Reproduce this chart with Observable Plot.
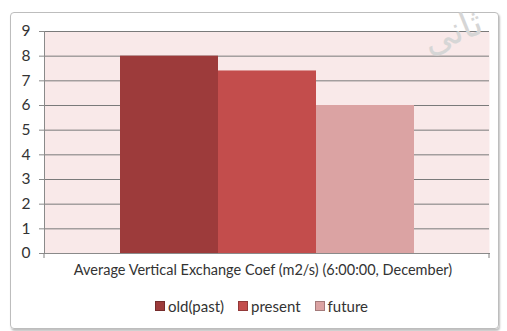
<!DOCTYPE html>
<html>
<head>
<meta charset="utf-8">
<script src="https://cdn.jsdelivr.net/npm/d3@7"></script>
<script src="https://cdn.jsdelivr.net/npm/@observablehq/plot@0.6"></script>
<style>
  html, body { margin: 0; padding: 0; background: #fff; }
  body { position: relative; width: 507px; height: 331px; overflow: hidden; font-family: Lato, "Open Sans", sans-serif; }
  #box {
    position: absolute; left: 10px; top: 12px; width: 487px; height: 315px;
    border: 1px solid #bdbdbd; border-radius: 4px;
    box-shadow: 1px 2px 2px rgba(0,0,0,0.25);
    pointer-events: none;
  }
  #chart { position: absolute; left: 0; top: 0; }
  #legend {
    position: absolute; left: 0; top: 297px; width: 507px;
    display: flex; justify-content: center; gap: 14px;
    font-size: 15px; color: #333; padding-left: 16px; box-sizing: border-box;
  }
  #legend .item { display: flex; align-items: center; gap: 3px; }
  #legend .sw { width: 8px; height: 8px; border: 1px solid rgba(0,0,0,0.25); }
  #mark { position: absolute; left: 422px; top: 14px; font-family: "DejaVu Sans", sans-serif;
          font-size: 36px; line-height: 36px; color: #d6d6d6; transform: rotate(-22deg); }
</style>
</head>
<body>
<div id="chart"></div>
<div id="legend"></div>
<div id="box"></div>
<div id="mark">ثانی</div>
<script>
// Series of the single category group
const seriesNames = ["old(past)", "present", "future"];
const seriesValues = [8, 7.4, 6];
const seriesColors = ["#9d3b3b", "#c34d4c", "#dba3a3"];
const yTicks = [0, 1, 2, 3, 4, 5, 6, 7, 8, 9];
const categoryLabel = "Average Vertical Exchange Coef (m2/s) (6:00:00, December)";

const data = seriesNames.map((s, i) => ({series: s, value: seriesValues[i]}));

// Small downward ticks at both ends of the category axis
const endTicks = (index, scales, values, dims) => {
  const g = d3.create("svg:g");
  const y0 = dims.height - dims.marginBottom;
  [dims.marginLeft, dims.width - dims.marginRight].forEach(x => {
    g.append("line").attr("x1", x).attr("x2", x).attr("y1", y0).attr("y2", y0 + 5)
      .attr("stroke", "#808080");
  });
  return g.node();
};

const chart = Plot.plot({
  width: 507,
  height: 290,
  marginLeft: 44,
  marginRight: 18,
  marginTop: 31,
  marginBottom: 37,
  style: {fontFamily: "Lato, 'Open Sans', sans-serif", background: "transparent"},
  x: {domain: seriesNames, paddingInner: 0, paddingOuter: 0.75, axis: null},
  y: {domain: [0, 9]},
  color: {domain: seriesNames, range: seriesColors},
  marks: [
    Plot.frame({fill: "#f9e9e9", stroke: null}),
    Plot.ruleY(yTicks, {stroke: "#7a7a7a", strokeWidth: 1}),
    Plot.barY(data, {x: "series", y: "value", fill: "series"}),
    Plot.frame({anchor: "left", stroke: "#8a8a8a"}),
    Plot.frame({anchor: "bottom", stroke: "#8a8a8a"}),
    endTicks,
    Plot.axisY({ticks: yTicks, tickSize: 5, tickPadding: 9, fontSize: 15.5, label: null,
                stroke: "#8a8a8a", color: "#333"}),
    Plot.text([categoryLabel], {frameAnchor: "bottom", dx: -4, dy: 21, fontSize: 14.5, fill: "#333"})
  ]
});
document.getElementById("chart").appendChild(chart);

// Legend below the chart
const legend = d3.select("#legend");
seriesNames.forEach((s, i) => {
  const item = legend.append("div").attr("class", "item");
  item.append("div").attr("class", "sw").style("background", seriesColors[i]);
  item.append("span").text(s);
});
</script>
</body>
</html>
